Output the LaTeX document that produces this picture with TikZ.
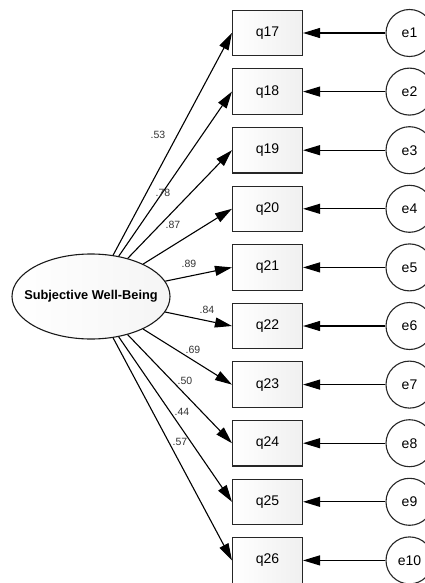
\documentclass[tikz,border=0pt]{standalone}
\usepackage{fontspec}
\setmainfont{Liberation Sans}
\usetikzlibrary{arrows.meta,shapes.geometric}
\begin{document}
\begin{tikzpicture}[x=1pt,y=-1pt,
  obs/.style={draw=black!85,line width=1.1pt,minimum width=70pt,minimum height=45.5pt,inner sep=0pt,
    left color=white,right color=black!6,font=\fontsize{14}{16}\selectfont},
  err/.style={circle,draw=black!85,line width=1.1pt,minimum size=47pt,inner sep=0pt,fill=white,
    font=\fontsize{14}{16}\selectfont},
  lat/.style={ellipse,draw=black!90,line width=1.1pt,minimum width=158pt,minimum height=85pt,
    inner xsep=-20pt,inner ysep=0pt,
    left color=white,right color=black!4,font=\bfseries\fontsize{12.8}{14}\selectfont},
  load/.style={font=\fontsize{10.5}{12}\selectfont,text=black!80,inner sep=0pt},
  arr/.style={line width=1.1pt,-{Triangle[length=17pt,width=10pt]}}]
\useasboundingbox (0,0) rectangle (425,583);
\begin{scope}
\clip (0,0) rectangle (425,583);
\node[lat] (swb) at (91,296.5) {Subjective Well-Being};
\foreach \i [count=\k from 0] in {17,...,26}{
  \pgfmathtruncatemacro{\e}{\k+1}
  \node[obs] (q\i) at (267.5,{33+58.6*\k}) {q\i};
  \node[err] (e\e) at (409.5,{33+58.6*\k}) {e\e};
  \draw[arr] (e\e) -- (q\i);
  \draw[arr] (swb) -- (q\i.west);
}
\end{scope}
\node[load] (l17) at (158,135) {.53};
\node[load] (l18) at (163,193) {.78};
\node[load] (l19) at (173,225) {.87};
\node[load] (l20) at (189,263.5) {.89};
\node[load] (l21) at (207,310) {.84};
\node[load] (l22) at (193,349.5) {.69};
\node[load] (l23) at (185,381) {.50};
\node[load] (l24) at (182,412) {.44};
\node[load] (l25) at (180,442) {.57};
\end{tikzpicture}
\end{document}
